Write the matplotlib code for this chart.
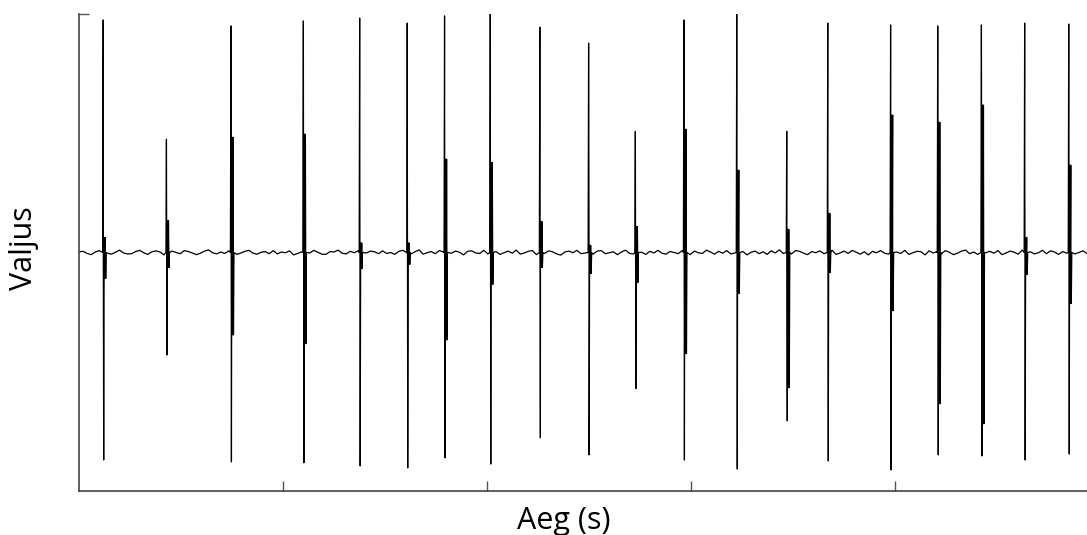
import numpy as np
import matplotlib
matplotlib.use('Agg')
import matplotlib.pyplot as plt

plt.rcParams['font.family'] = ['Open Sans', 'DejaVu Sans']

# aja telg (s) ja spaikide andmed, loetud pildilt
t_end = 4.94
spike_t = [0.116, 0.426, 0.742, 1.097, 1.373, 1.606, 1.789, 2.013, 2.256, 2.495,
           2.724, 2.962, 3.221, 3.466, 3.667, 3.975, 4.206, 4.420, 4.632, 4.848]
spike_top = [0.975, 0.475, 0.950, 0.971, 0.983, 0.962, 0.992, 1.000, 0.945, 0.878,
             0.508, 0.975, 1.000, 0.508, 0.962, 0.954, 0.950, 0.954, 0.962, 0.958]
spike_bot = [-0.870, -0.429, -0.878, -0.882, -0.895, -0.903, -0.861, -0.887, -0.777, -0.849,
             -0.571, -0.870, -0.908, -0.706, -0.874, -0.912, -0.849, -0.853, -0.870, -0.845]
inner_top = [0.063, 0.134, 0.483, 0.496, 0.040, 0.040, 0.391, 0.378, 0.130, 0.030,
             0.109, 0.517, 0.345, 0.097, 0.164, 0.576, 0.546, 0.618, 0.063, 0.366]
inner_bot = [-0.109, -0.063, -0.345, -0.382, -0.067, -0.050, -0.366, -0.134, -0.063, -0.088,
             -0.126, -0.424, -0.172, -0.567, -0.084, -0.244, -0.634, -0.718, -0.092, -0.214]

# taustamüra (tuhandikes)
noise_milli = [
    3, 5, -4, -9, 2, 8, 6, -3, -7, 1, 10, -2, -6, -5, 4, 9, -1, -8, 3, 7, 2, -10, -4, 6, 0,
    -5, 8, 4, -2, -9, -3, 6, 11, -1, -6, 2, -4, 7, 3, -8, -2, 5, 9, -3, -7, 1, 4, -5, 8, -6,
    2, -1, 7, -10, -4, 3, 6, -2, 9, 1, -7, -8, 4, 2, 10, -3, -6, 5, -1, 8, -9, -2, 6, 3, -5,
    7, -4, 0, -8, 5, 9, -2, -6, 3, 11, -7, -1, 4, -5, 8, 2, -9, -3, 6, 1, -10, 5, 7, -2, -4,
    9, -6, 2, 4, -8, -1, 6, -3, 10, -7, -2, 5, 8, -9, 1, -4, 7, 3, -6, -11, 2, 6, -1, 9, -5,
    -2, 4, -7, 6, 8, -5, -1, 3, -9, 2, 10, -4, -6, 7, 1, -8, 5, -2, 9, -3, -7, 4, 0, -5, 8,
    3, -9, 6, -1, -4, 10, 2, -7, 5, -3, 8, -6, -2, 9, 4, -10, 1, 6, -5, 3, -8, 7, -2, 11, -4,
    1, -6, 8, 5, -3, -9, 4, -1, 7, -5, 2, 10, -8, -2, 6, -4, 9, 1, -7, 3, -10, 5, -1, 8, -3,
    -7, 6, 2, -4, 9, -8, -1, 5, 3, -10, 7, -2, 4, -6, 8, 1, -9, -3, 6, 10, -5, 2, -8, 4, -1,
    5, -3, 8, -9, -2, 6, 1, -7, 10, -4, 3, -6, -1, 9, -5, 7, 2, -8, 4, -3, 11, -6, 0, 7, -4,
]

# signaali kokkupanek
t_base = np.linspace(0, t_end, len(noise_milli))
v_base = np.array(noise_milli) / 1000.0

ts = list(t_base)
vs = list(v_base)
dt = 0.0025
for i in range(len(spike_t)):
    vals = [0.0, spike_top[i], spike_bot[i], inner_top[i], inner_bot[i],
            inner_top[i], inner_bot[i], 0.0]
    for k, v in enumerate(vals):
        ts.append(spike_t[i] + k * dt)
        vs.append(v)

order = np.argsort(ts, kind='stable')
t_all = np.array(ts)[order]
v_all = np.array(vs)[order]

fig = plt.figure(figsize=(10.87, 5.35), dpi=100)
ax = fig.add_axes([79 / 1087, 1 - 491 / 535, 1 - 79 / 1087, (491 - 14) / 535])
ax.plot(t_all, v_all, color='black', lw=0.9)

ax.set_xlim(0, t_end)
ax.set_ylim(-1, 1)
ax.set_xticks([1, 2, 3, 4])
ax.set_yticks([1])
ax.set_xticklabels([])
ax.set_yticklabels([])
ax.tick_params(direction='in', length=7, width=1, color='#555555')
for s in ['top', 'right']:
    ax.spines[s].set_visible(False)
for s in ['left', 'bottom']:
    ax.spines[s].set_color('#444444')
    ax.spines[s].set_linewidth(1.2)

fig.text(564 / 1087, 1 - 521 / 535, 'Aeg (s)', ha='center', va='center', fontsize=22)
fig.text(24 / 1087, 1 - 248 / 535, 'Valjus', ha='center', va='center', rotation=90, fontsize=22)

fig.savefig('out.png', dpi=100)
